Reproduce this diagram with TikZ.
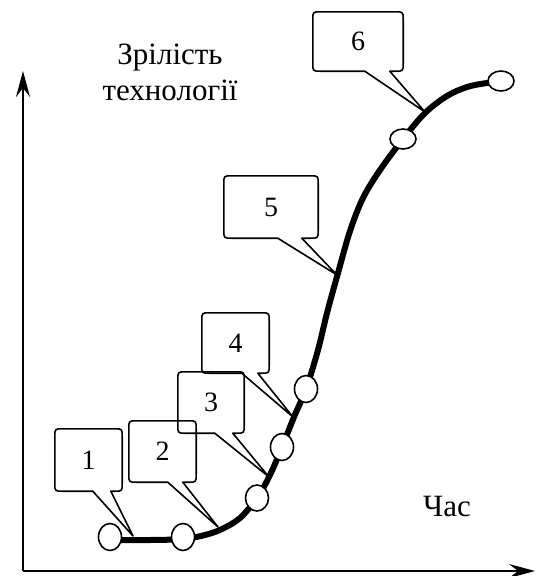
\documentclass[tikz,border=0pt]{standalone}
\usepackage{fontspec}
\setmainfont{Liberation Serif}
\usetikzlibrary{arrows.meta,calc,shapes.geometric}
\tikzset{
  axisline/.style={line width=1.8pt,-{Stealth[length=26pt,width=14pt,inset=9pt]}},
  curveline/.style={line width=6pt},
  callline/.style={line width=1.6pt,line join=round},
  numbox/.style={minimum width=#1,inner sep=0pt,font=\fontsize{28}{32}\selectfont},
  pt/.style={ellipse,draw,line width=1.6pt,fill=white,inner sep=0pt},
  lbl/.style={font=\fontsize{31}{36}\selectfont,align=center,inner sep=0pt}
}
\newcommand\mycallout[4]{%
  \draw[callline] ($(#1.south west)+(#2,0)$) -- ($(#1.south west)+(8,0)$)
    .. controls (#1.south west) .. ($(#1.south west)+(0,-8)$)
    -- ($(#1.north west)+(0,8)$) .. controls (#1.north west) .. ($(#1.north west)+(8,0)$)
    -- ($(#1.north east)+(-8,0)$) .. controls (#1.north east) .. ($(#1.north east)+(0,8)$)
    -- ($(#1.south east)+(0,-8)$) .. controls (#1.south east) .. ($(#1.south east)+(-8,0)$)
    -- ($(#1.south west)+(#3,0)$) -- (#4) -- cycle;}
\begin{document}
\begin{tikzpicture}[x=1pt,y=-1pt]
\useasboundingbox (0,0) rectangle (536,576);
% axes
\coordinate (O) at (23,571);
\coordinate (Ytop) at (23,71);
\coordinate (Xend) at (535,571);
\draw[axisline] (O) -- (Ytop);
\draw[axisline] (O) -- (Xend);
% labels
\node[lbl] (ylab) at (170,72) {Зрілість\\технології};
\node[lbl] (xlab) at (447,506) {Час};
% curve
\draw[curveline] plot[smooth,tension=0.55] coordinates {
 (110,540) (150,540) (183,539) (205,535) (222,529) (240,518) (257,498) (270,475)
 (282,447) (294,417) (306,389) (318,350) (327,313) (338,273) (350,231) (363,198)
 (380,170) (403,139) (425,113) (447,96) (467,87) (487,83) (501,82)};
% tips
\coordinate (t1) at (133,536);
\coordinate (t2) at (218,527);
\coordinate (t3) at (269,477);
\coordinate (t4) at (293,417);
\coordinate (t5) at (337,275);
\coordinate (t6) at (425,112);
% callout boxes
\node[numbox=67pt,minimum height=62pt] (c1) at (88.5,460) {1};
\node[numbox=67pt,minimum height=61pt] (c2) at (162.5,451.5) {2};
\node[numbox=66pt,minimum height=61pt] (c3) at (211,402.5) {3};
\node[numbox=67pt,minimum height=60pt] (c4) at (235.5,343) {4};
\node[numbox=94pt,minimum height=62pt] (c5) at (271,207) {5};
\node[numbox=90pt,minimum height=59pt] (c6) at (358,41.5) {6};
\mycallout{c1}{38}{56}{t1}
\mycallout{c2}{39}{54}{t2}
\mycallout{c3}{37}{55}{t3}
\mycallout{c4}{40}{56}{t4}
\mycallout{c5}{54}{78}{t5}
\mycallout{c6}{52}{77}{t6}
% points
\node[pt,minimum width=23pt,minimum height=27pt] (p1) at (110,537) {};
\node[pt,minimum width=23pt,minimum height=27pt] (p2) at (183,537) {};
\node[pt,minimum width=23pt,minimum height=26pt] (p3) at (257,498) {};
\node[pt,minimum width=23pt,minimum height=27pt] (p4) at (282,447) {};
\node[pt,minimum width=23pt,minimum height=27pt] (p5) at (306,389) {};
\node[pt,minimum width=26pt,minimum height=20pt] (p6) at (403,139) {};
\node[pt,minimum width=26pt,minimum height=20pt] (p7) at (501,81) {};
\end{tikzpicture}
\end{document}
